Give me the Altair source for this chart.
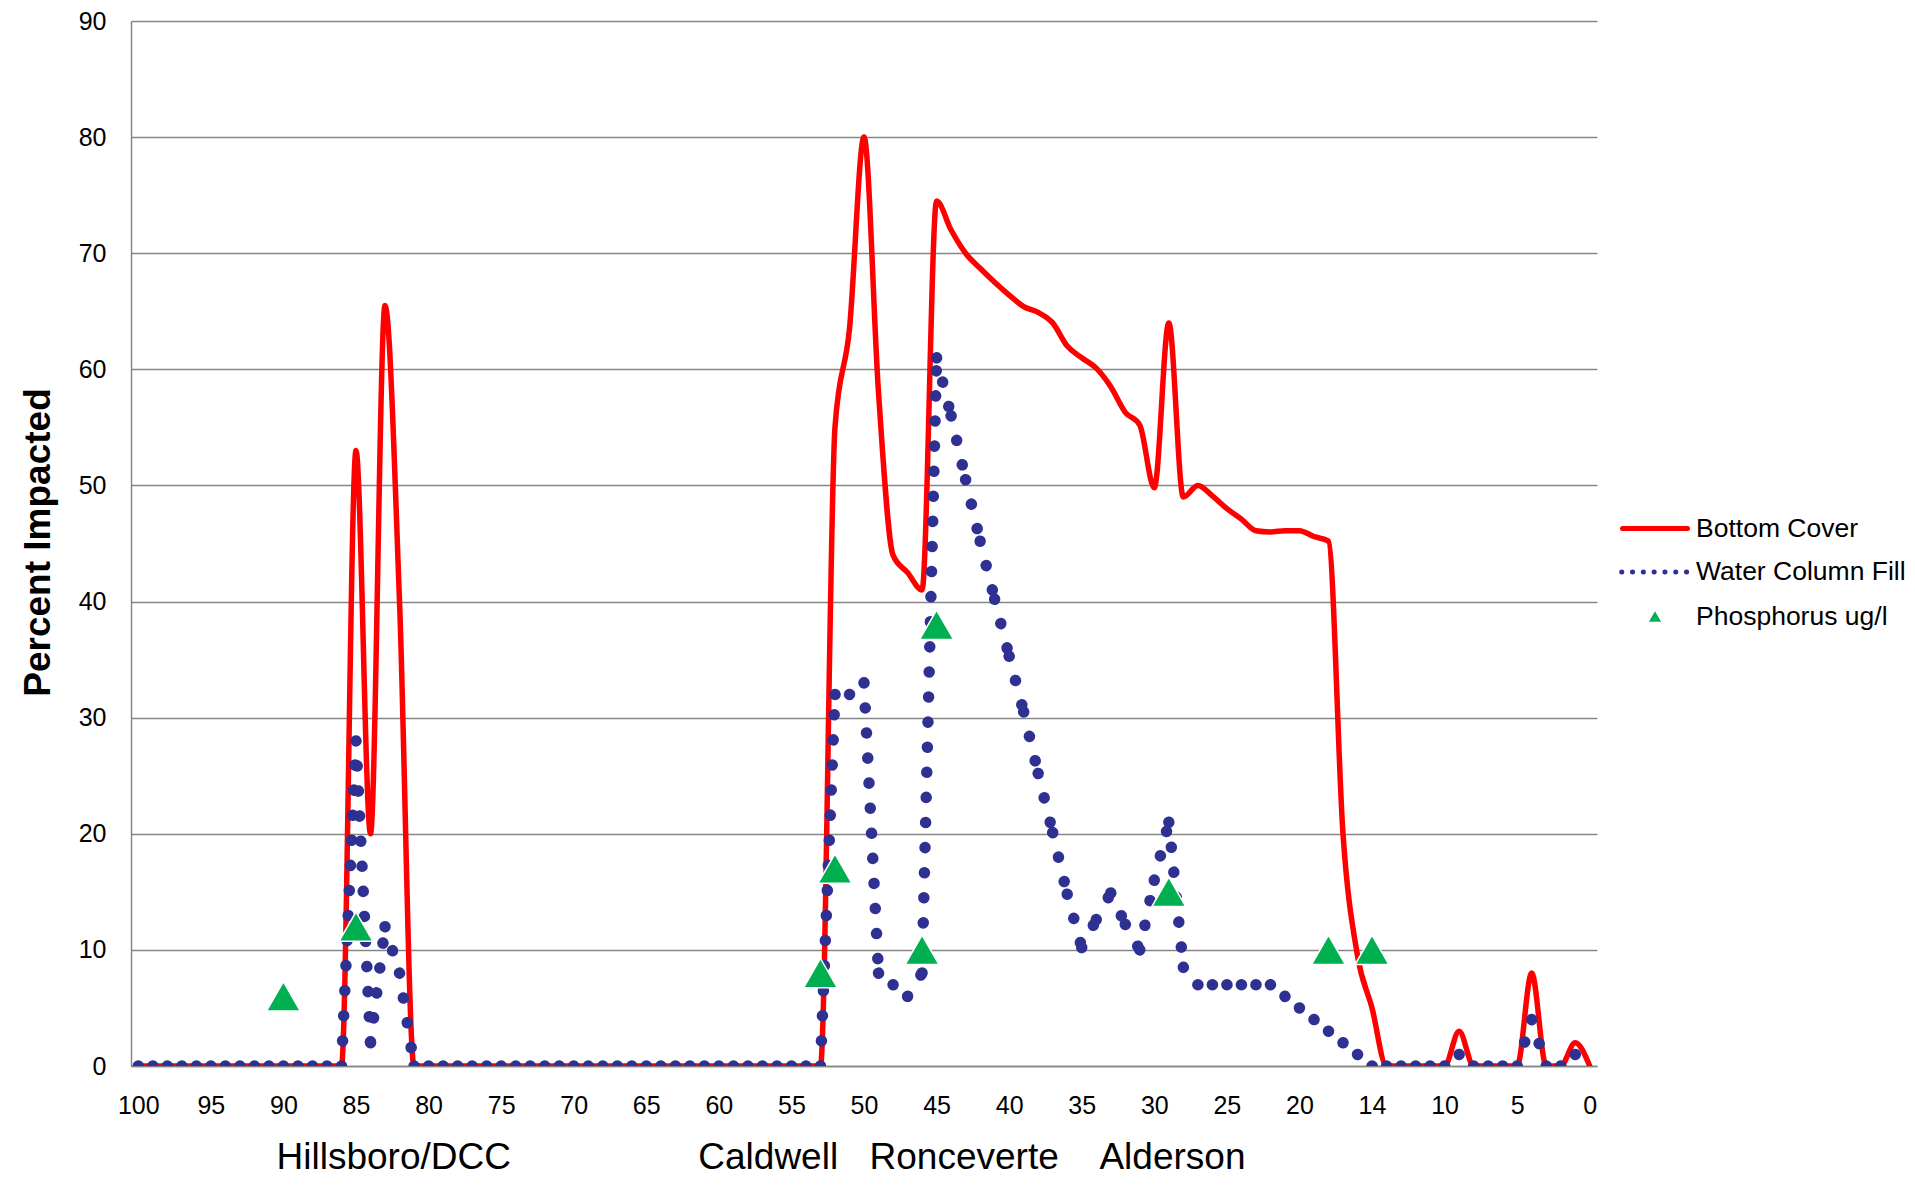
import json
import altair as alt
import pandas as pd

FONT = "Liberation Sans"
RED = "#FF0000"
BLUE = "#2E3192"
GREEN = "#00B050"
GRID = "#868686"

# River mile categories (100 down to 0)
miles = list(range(100, -1, -1))

# Bottom Cover (%), mile 100 -> 0
bottom_cover = [
    0, 0, 0, 0, 0, 0, 0, 0, 0, 0,            # 100-91
    0, 0, 0, 0, 0, 53, 20, 65.5, 40, 0,      # 90-81
    0, 0, 0, 0, 0, 0, 0, 0, 0, 0,            # 80-71
    0, 0, 0, 0, 0, 0, 0, 0, 0, 0,            # 70-61
    0, 0, 0, 0, 0, 0, 0, 0, 55, 63.5,        # 60-51
    80, 58, 44, 42.5, 41, 74.5, 72, 70, 68.7, 67.5,        # 50-41
    66.4, 65.4, 64.9, 64, 62, 61, 60.1, 58.5, 56.3, 55.2,  # 40-31
    49.8, 64, 49, 50, 49.1, 48, 47.1, 46.1, 46, 46.1,      # 30-21
    46.1, 45.6, 45.2, 20, 9.5, 5, 0, 0, 0, 0,               # 20-11
    0, 3, 0, 0, 0, 0, 8, 0, 0, 2,                           # 10-1
    0,                                                      # 0
]

# Water Column Fill (%), mile 100 -> 0
water_column = [
    0, 0, 0, 0, 0, 0, 0, 0, 0, 0,            # 100-91
    0, 0, 0, 0, 0, 28, 2, 12, 8, 0,          # 90-81
    0, 0, 0, 0, 0, 0, 0, 0, 0, 0,            # 80-71
    0, 0, 0, 0, 0, 0, 0, 0, 0, 0,            # 70-61
    0, 0, 0, 0, 0, 0, 0, 0, 32, 32,          # 60-51
    33, 8, 7, 6, 8, 61, 56, 50.5, 45.2, 40.2,               # 50-41
    35.3, 30.5, 25.2, 20.1, 14.8, 10.2, 12.6, 14.9, 12.2, 10,  # 40-31
    16, 21, 8.5, 7, 7, 7, 7, 7, 7, 6,                       # 30-21
    5, 4, 3, 2, 1, 0, 0, 0, 0, 0,                           # 20-11
    0, 1, 0, 0, 0, 0, 4, 0, 0, 1,                           # 10-1
    0,                                                      # 0
]

# Phosphorus ug/l markers
phos_miles = [90, 85, 53, 52, 46, 45, 29, 18, 15]
phos_values = [6, 12, 8, 17, 10, 38, 15, 10, 10]

# Axis ticks / labels
tick_values = [100, 95, 90, 85, 80, 75, 70, 65, 60, 55, 50, 45, 40, 35, 30, 25, 20, 15, 10, 5, 0]
tick_labels = ["100", "95", "90", "85", "80", "75", "70", "65", "60", "55", "50",
               "45", "40", "35", "30", "25", "20", "14", "10", "5", "0"]
y_ticks = [0, 10, 20, 30, 40, 50, 60, 70, 80, 90]

# Town labels below the axis
town_names = ["Hillsboro/DCC", "Caldwell", "Ronceverte", "Alderson"]
town_miles = [82.4, 56.6, 43.1, 28.75]

legend_labels = ["Bottom Cover", "Water Column Fill", "Phosphorus ug/l"]

W, H = 1466, 1045

red_df = pd.DataFrame({"mile": miles, "value": bottom_cover})
phos_df = pd.DataFrame({"mile": phos_miles, "value": phos_values})
town_df = pd.DataFrame({"mile": town_miles, "town": town_names})

# Water column line drawn segment by segment (dot pattern restarts at each point)
seg_rows = []
for i in range(len(miles) - 1):
    seg_rows.append({"seg": i, "k": 0, "mile": miles[i], "value": water_column[i]})
    seg_rows.append({"seg": i, "k": 1, "mile": miles[i + 1], "value": water_column[i + 1]})
blue_df = pd.DataFrame(seg_rows)

x_scale = alt.Scale(domain=[100.5, -0.5], nice=False, zero=False)
y_scale = alt.Scale(domain=[0, 90], nice=False, zero=True)

label_expr = f"{json.dumps(tick_labels)}[indexof({json.dumps(tick_values)}, datum.value)]"

x_axis = alt.Axis(
    values=tick_values, labelExpr=label_expr, title=None, grid=False,
    ticks=False, tickSize=0, domain=True, domainColor=GRID, domainWidth=1.5,
    labelFont=FONT, labelFontSize=25, labelColor="black", labelPadding=27,
    labelAngle=0, labelFlush=False, labelOverlap=False,
)
y_axis = alt.Axis(
    values=y_ticks, title="Percent Impacted", titleFont=FONT, titleFontSize=37,
    titleFontWeight="bold", titleColor="black", titleX=-93, titleY=521,
    titleAngle=270, titleAlign="center", titleBaseline="middle",
    grid=True, gridColor=GRID, gridWidth=1.3, ticks=False, tickSize=0,
    domain=True, domainColor=GRID, domainWidth=1.5,
    labelFont=FONT, labelFontSize=25, labelColor="black", labelPadding=25,
    labelOverlap=False,
)

X = alt.X("mile:Q", scale=x_scale, axis=x_axis)
Y = alt.Y("value:Q", scale=y_scale, axis=y_axis)

red = alt.Chart(red_df).mark_line(
    color=RED, strokeWidth=5.5, interpolate="monotone",
    strokeJoin="round", strokeCap="round", clip=True,
).encode(x=X, y=Y)

blue = alt.Chart(blue_df).mark_line(
    color=BLUE, strokeWidth=11.5, strokeDash=[0.1, 25], strokeCap="round", clip=True,
).encode(x=X, y=Y, detail="seg:N", order=alt.Order("k:Q"))

phos = alt.Chart(phos_df).mark_point(
    shape="triangle-up", filled=True, size=1150, color=GREEN,
    stroke="white", strokeWidth=1.5, opacity=1,
).encode(x=X, y=Y)

towns = alt.Chart(town_df).mark_text(
    font=FONT, fontSize=37, color="black", align="center", baseline="alphabetic",
).encode(x=X, y=alt.value(1148), text="town:N")

# Legend (drawn to the right of the plot)
def one(label):
    return pd.DataFrame({"label": [label]})

LY = [507.5, 551, 595.5]

leg_red = alt.Chart(one(legend_labels[0])).mark_rule(
    color=RED, strokeWidth=5, strokeCap="round"
).encode(x=alt.value(1491.5), x2=alt.value(1556.5), y=alt.value(LY[0]))

leg_blue = alt.Chart(one(legend_labels[1])).mark_rule(
    color=BLUE, strokeWidth=5, strokeDash=[0.1, 10.7], strokeCap="round"
).encode(x=alt.value(1490.7), x2=alt.value(1557), y=alt.value(LY[1]))

leg_green = alt.Chart(one(legend_labels[2])).mark_point(
    shape="triangle-up", filled=True, size=150, color=GREEN, opacity=1
).encode(x=alt.value(1524), y=alt.value(LY[2]))

leg_texts = [
    alt.Chart(one(lbl)).mark_text(
        font=FONT, fontSize=26.5, color="black", align="left", baseline="middle"
    ).encode(x=alt.value(1565), y=alt.value(yy), text="label:N")
    for lbl, yy in zip(legend_labels, LY)
]

chart = alt.layer(
    red, blue, phos, towns, leg_red, leg_blue, leg_green, *leg_texts
).properties(
    width=W, height=H,
    autosize=alt.AutoSizeParams(type="none"),
    padding={"left": 123, "top": 13, "right": 310, "bottom": 111},
).configure_view(stroke=None)

chart.save("out.html", embed_options={"renderer": "svg", "actions": False})
